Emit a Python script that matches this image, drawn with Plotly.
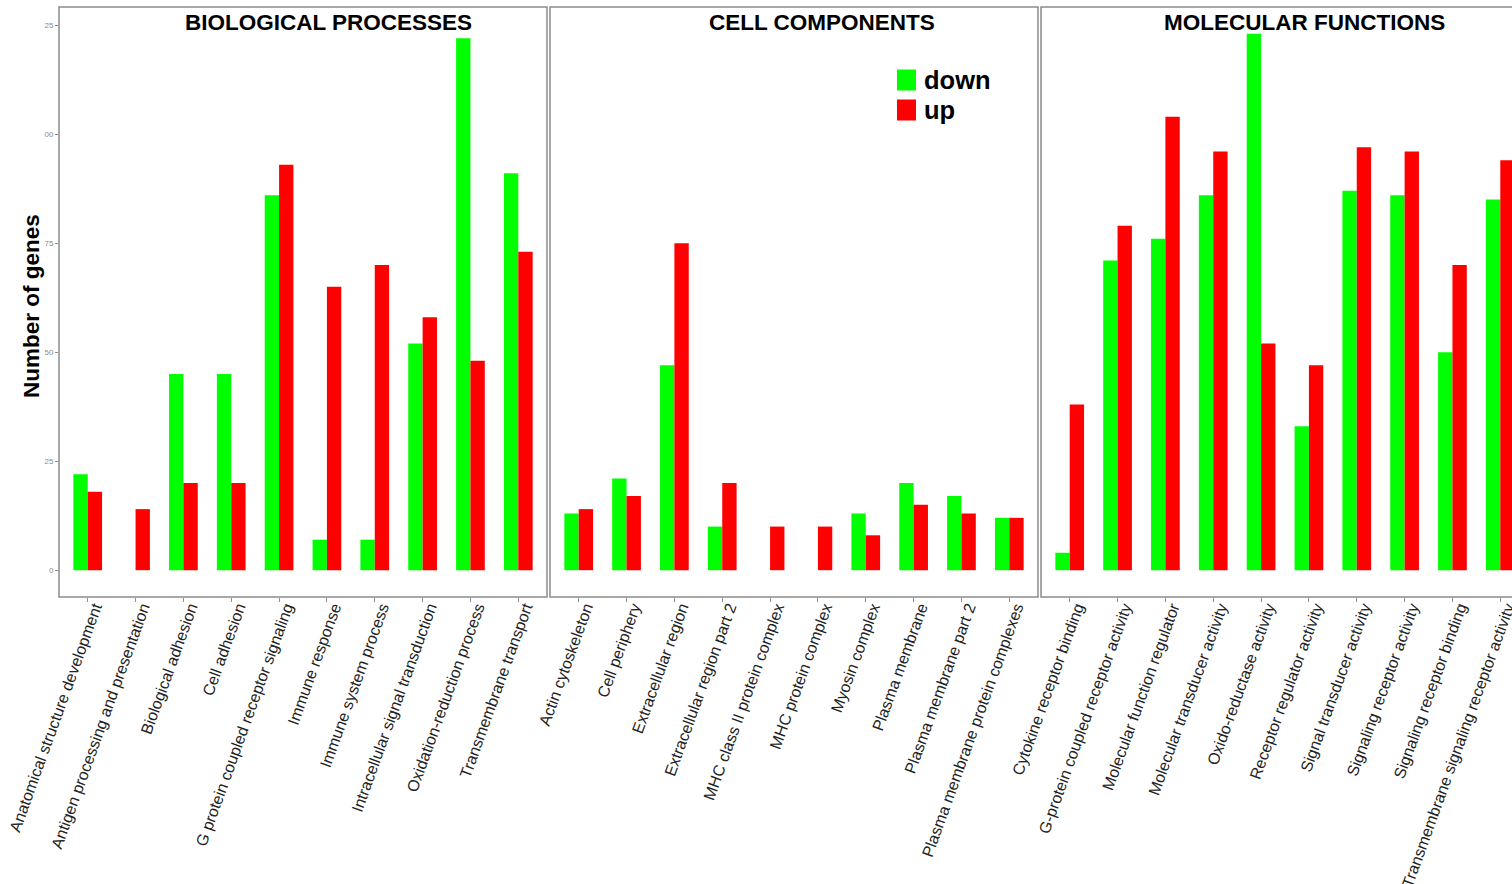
import plotly.graph_objects as go

# GO term categories per ontology
bp_terms = [
    "Anatomical structure development", "Antigen processing and presentation",
    "Biological adhesion", "Cell adhesion", "G protein coupled receptor signaling",
    "Immune response", "Immune system process", "Intracellular signal transduction",
    "Oxidation-reduction process", "Transmembrane transport",
]
bp_down = [22, 0, 45, 45, 86, 7, 7, 52, 122, 91]
bp_up = [18, 14, 20, 20, 93, 65, 70, 58, 48, 73]

cc_terms = [
    "Actin cytoskeleton", "Cell periphery", "Extracellular region",
    "Extracellular region part 2", "MHC class II protein complex",
    "MHC protein complex", "Myosin complex", "Plasma membrane",
    "Plasma membrane part 2", "Plasma membrane protein complexes",
]
cc_down = [13, 21, 47, 10, 0, 0, 13, 20, 17, 12]
cc_up = [14, 17, 75, 20, 10, 10, 8, 15, 13, 12]

mf_terms = [
    "Cytokine receptor binding", "G-protein coupled receptor activity",
    "Molecular function regulator", "Molecular transducer activity",
    "Oxido-reductase activity", "Receptor regulator activity",
    "Signal transducer activity", "Signaling receptor activity",
    "Signaling receptor binding", "Transmembrane signaling receptor activity",
]
mf_down = [4, 71, 76, 86, 123, 33, 87, 86, 50, 85]
mf_up = [38, 79, 104, 96, 52, 47, 97, 96, 70, 94]

panel_titles = ["BIOLOGICAL PROCESSES", "CELL COMPONENTS", "MOLECULAR FUNCTIONS"]
series_names = ["down", "up"]
y_tickvals = [0, 25, 50, 75, 100, 125]
y_ticktext = ["0", "25", "50", "75", "00", "25"]

GREEN = "#00FF00"
RED = "#FF0000"
FONT = "Liberation Sans, Arial, sans-serif"

W, H = 1512, 884
# panel pixel extents (left, right)
panels_px = [(59, 547), (550, 1037), (1041, 1512)]
top_px, bot_px = 7, 597
unit_px = (547 - 59) / 10.2  # width of one category slot

fig = go.Figure()

groups = [
    (bp_terms, bp_down, bp_up),
    (cc_terms, cc_down, cc_up),
    (mf_terms, mf_down, mf_up),
]

for i, (terms, down, up) in enumerate(groups, start=1):
    xa = "x" if i == 1 else f"x{i}"
    ya = "y" if i == 1 else f"y{i}"
    fig.add_trace(go.Bar(x=terms, y=down, name=series_names[0], marker_color=GREEN,
                         marker_line_width=0, xaxis=xa, yaxis=ya,
                         offsetgroup="down", showlegend=False))
    fig.add_trace(go.Bar(x=terms, y=up, name=series_names[1], marker_color=RED,
                         marker_line_width=0, xaxis=xa, yaxis=ya,
                         offsetgroup="up", showlegend=False))

yrange = [-6.15, 129.15]
ydom = [(H - bot_px) / H, (H - top_px) / H]

layout = dict(
    width=W, height=H,
    margin=dict(l=0, r=0, t=0, b=0),
    paper_bgcolor="white", plot_bgcolor="white",
    barmode="group", bargap=0.4, bargroupgap=0,
    font=dict(family=FONT),
    showlegend=False,
    shapes=[], annotations=[],
)

for i, (l, r) in enumerate(panels_px, start=1):
    xk = "xaxis" if i == 1 else f"xaxis{i}"
    yk = "yaxis" if i == 1 else f"yaxis{i}"
    n_units = (r - l) / unit_px
    layout[xk] = dict(
        domain=[l / W, r / W], anchor="y" if i == 1 else f"y{i}",
        range=[-0.6, -0.6 + n_units], type="category", automargin=False,
        showline=False, showgrid=False, zeroline=False,
        ticks="outside", ticklen=4, tickcolor="#8c8c8c", tickwidth=1,
        tickangle=-70, ticklabelstandoff=-10, ticklabelshift=7,
        tickfont=dict(size=16, color="#222222", family=FONT),
        fixedrange=True,
    )
    layout[yk] = dict(
        domain=ydom, anchor="x" if i == 1 else f"x{i}", automargin=False,
        range=yrange, showgrid=False, zeroline=False, showline=False,
        tickvals=y_tickvals,
        ticktext=y_ticktext if i == 1 else None,
        showticklabels=(i == 1),
        ticks="outside" if i == 1 else "", ticklen=3, tickcolor="#8c8c8c",
        tickfont=dict(size=8, color="#8a8a8a", family=FONT),
        fixedrange=True,
    )
    if i > 1:
        layout[yk]["matches"] = "y"
    # panel border
    xref = "x domain" if i == 1 else f"x{i} domain"
    yref = "y domain" if i == 1 else f"y{i} domain"
    full_w = 488
    layout["shapes"].append(dict(
        type="rect", xref=xref, yref=yref, x0=0, x1=full_w / (r - l), y0=0, y1=1,
        line=dict(color="#8c8c8c", width=1.5), fillcolor="rgba(0,0,0,0)",
    ))

# panel titles
title_px = [328, 822, 1304]
for i, (t, cx) in enumerate(zip(panel_titles, title_px), start=1):
    layout["annotations"].append(dict(
        text=t, x=cx / W, y=(H - 22) / H, xref="paper", yref="paper",
        xanchor="center", yanchor="middle", showarrow=False,
        font=dict(size=22.5, color="black", family=FONT, weight="bold"),
    ))

# legend key: colour squares with bold labels
key_x0, key_y = 897, [80, 110]
for name, col, cy in zip(series_names, [GREEN, RED], key_y):
    layout["shapes"].append(dict(
        type="rect", xref="paper", yref="paper",
        x0=key_x0 / W, x1=(key_x0 + 19) / W,
        y0=(H - cy - 10.5) / H, y1=(H - cy + 10.5) / H,
        line=dict(width=0), fillcolor=col,
    ))
    layout["annotations"].append(dict(
        text=name, x=(key_x0 + 25) / W, y=(H - cy) / H, xref="paper", yref="paper",
        xanchor="left", yanchor="middle", showarrow=False,
        font=dict(size=25.5, color="black", family=FONT, weight="bold"),
    ))

# y-axis title
layout["annotations"].append(dict(
    text="Number of genes", x=31 / W, y=(H - 306) / H, xref="paper", yref="paper",
    xanchor="center", yanchor="middle", showarrow=False, textangle=-90,
    font=dict(size=22.5, color="black", family=FONT, weight="bold"),
))

fig.update_layout(**layout)
fig.write_html("out.html")
